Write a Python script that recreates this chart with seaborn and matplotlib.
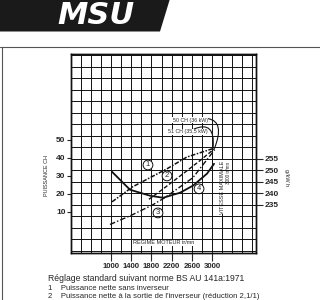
import matplotlib
matplotlib.use("Agg")
import matplotlib.pyplot as plt
from matplotlib.patches import Polygon
import seaborn as sns
import numpy as np
import pandas as pd

sns.set_style("white")
plt.rcParams['font.family'] = ['Liberation Sans', 'DejaVu Sans']

# ---- data ----
rpm1 = [1020, 1430, 1770, 2110, 2500, 3050]
cv1 = [15.6, 24.0, 29.0, 34.0, 40.5, 45.5]

rpm2 = [1750, 1970, 2370, 2760, 3050]
cv2 = [17.0, 21.5, 30.0, 38.5, 45.2]

rpm3 = [980, 1430, 1830, 2070, 2620, 3050]
cv3 = [3.0, 8.5, 14.0, 18.0, 29.0, 44.5]

rpm4 = [1020, 1376, 1772, 2030, 2366, 2624, 2900, 3040]
conso4 = [249.3, 241.5, 238.9, 238.0, 240.2, 243.3, 248.5, 252.8]

x_ticks = [1000, 1400, 1800, 2200, 2600, 3000]
y_ticks = [10, 20, 30, 40, 50]
y2_ticks = [235, 240, 245, 250, 255]

footnotes = ["Réglage standard suivant norme BS AU 141a:1971",
             "1    Puissance nette sans inverseur",
             "2    Puissance nette à la sortie de l'inverseur (réduction 2,1/1)"]

fig = plt.figure(figsize=(3.2, 3.0), dpi=100)

# ---- logo banner ----
fig.patches.append(Polygon([[0, 1], [0.53, 1], [0.50, 0.895], [0, 0.895]], closed=True,
                           transform=fig.transFigure, fc='#1a1a1a', ec='none'))
fig.text(0.30, 0.948, "MSU", fontsize=22, fontweight='bold', style='italic',
         color='white', ha='center', va='center', family=['DejaVu Sans'])
fig.add_artist(plt.Line2D([0, 1], [0.843, 0.843], transform=fig.transFigure,
                          color='#555555', lw=0.8))
fig.add_artist(plt.Line2D([0.007, 0.007], [0, 0.843], transform=fig.transFigure,
                          color='#555555', lw=0.8))

ax = fig.add_axes([0.222, 0.157, 0.578, 0.663])
ax2 = ax.twinx()

ax.set_xlim(208, 3870)
ax.set_ylim(-12.8, 97.8)
ax2.set_ylim(214, 300.6)

# grid
ax.set_xticks(x_ticks)
ax.set_xticks(np.arange(400, 3801, 200), minor=True)
ax.grid(True, which='both', axis='x', color='#111111', lw=0.7)
ax.grid(False, axis='y')
ax2.set_yticks(y2_ticks)
ax2.set_yticks(np.arange(215, 301, 5), minor=True)
ax2.grid(True, which='both', axis='y', color='#111111', lw=0.7)

# curves
sns.lineplot(x=rpm1, y=cv1, ax=ax, color='#111111', lw=1.1, linestyle=(0, (3, 1, 1, 1)))
sns.lineplot(x=rpm2, y=cv2, ax=ax, color='#111111', lw=1.0, linestyle=(0, (3, 1.5)))
sns.lineplot(x=rpm3, y=cv3, ax=ax, color='#111111', lw=1.0, linestyle=(0, (4, 1.5, 1, 1.5)))
sns.lineplot(x=rpm4, y=conso4, ax=ax2, color='#111111', lw=1.3)

# ticks
ax.set_yticks(y_ticks)
ax.set_yticklabels([str(v) for v in y_ticks], fontsize=6, fontweight='bold')
ax.set_xticklabels([str(v) for v in x_ticks], fontsize=5.6, fontweight='bold')
ax.tick_params(axis='x', which='major', length=6, width=0.8, direction='out', pad=1,
               bottom=True)
ax.tick_params(axis='x', which='minor', length=0)
ax.tick_params(axis='y', which='major', length=3, width=0.8, direction='out', pad=1, left=True)
ax2.set_yticklabels([str(v) for v in y2_ticks], fontsize=6, fontweight='bold')
ax2.tick_params(axis='y', which='major', length=5, width=0.8, direction='out', pad=1, right=True)
ax2.tick_params(axis='y', which='minor', length=0)
ax.set_xlabel("")
ax.set_ylabel("")
ax2.set_ylabel("")
for a in (ax, ax2):
    for s in a.spines.values():
        s.set_color('#111111')
        s.set_linewidth(1.0)

# circled labels
circ = dict(boxstyle='circle,pad=0.18', fc='white', ec='#111111', lw=0.7)
for lab, px, py in [("1", 0.416, 0.442), ("2", 0.519, 0.387), ("3", 0.47, 0.201), ("4", 0.692, 0.322)]:
    ax.text(px, py, lab, transform=ax.transAxes, fontsize=5.5, ha='center', va='center',
            bbox=circ, zorder=5)

# leaders
ax.annotate("50 CH (36 kW)", xy=(rpm1[-1], cv1[-1]), xycoords='data',
            xytext=(0.74, 0.668), textcoords='axes fraction', fontsize=3.8,
            ha='right', va='center',
            bbox=dict(fc='white', ec='none', pad=0.3),
            arrowprops=dict(arrowstyle='-', color='#111111', lw=0.8,
                            connectionstyle='arc3,rad=-0.95', shrinkA=0, shrinkB=0))
ax.annotate("51 CH (35,5 kW)", xy=(rpm1[-1] - 30, cv1[-1]), xycoords='data',
            xytext=(0.74, 0.608), textcoords='axes fraction', fontsize=3.8,
            ha='right', va='center',
            bbox=dict(fc='white', ec='none', pad=0.3),
            arrowprops=dict(arrowstyle='-', color='#111111', lw=0.8,
                            connectionstyle='arc3,rad=-0.95', shrinkA=0, shrinkB=0))

ax.text(0.5, 0.05, "REGIME MOTEUR tr/mn", transform=ax.transAxes, fontsize=4,
        ha='center', va='center', bbox=dict(fc='white', ec='none', pad=0.2))
ax.text(0.818, 0.33, "VITESSE MAXIMALE", transform=ax.transAxes, fontsize=4,
        rotation=90, ha='center', va='center', bbox=dict(fc='white', ec='none', pad=0.2))
ax.text(0.852, 0.40, "3000 tr/mn", transform=ax.transAxes, fontsize=3.3,
        rotation=90, ha='center', va='center', bbox=dict(fc='white', ec='none', pad=0.1))

fig.text(47 / 320, 1 - 175 / 300, "PUISSANCE CH", rotation=90, fontsize=4,
         ha='center', va='center')
fig.text(286 / 320, 1 - 178 / 300, "g/kW h", rotation=270, fontsize=4,
         ha='center', va='center')

fig.text(48 / 320, 1 - 281 / 300, footnotes[0], fontsize=6.2, ha='left', va='baseline')
fig.text(48 / 320, 1 - 290 / 300, footnotes[1], fontsize=5.6, ha='left', va='baseline')
fig.text(48 / 320, 1 - 298 / 300, footnotes[2], fontsize=5.6, ha='left', va='baseline')

fig.savefig("out.png", dpi=100)
